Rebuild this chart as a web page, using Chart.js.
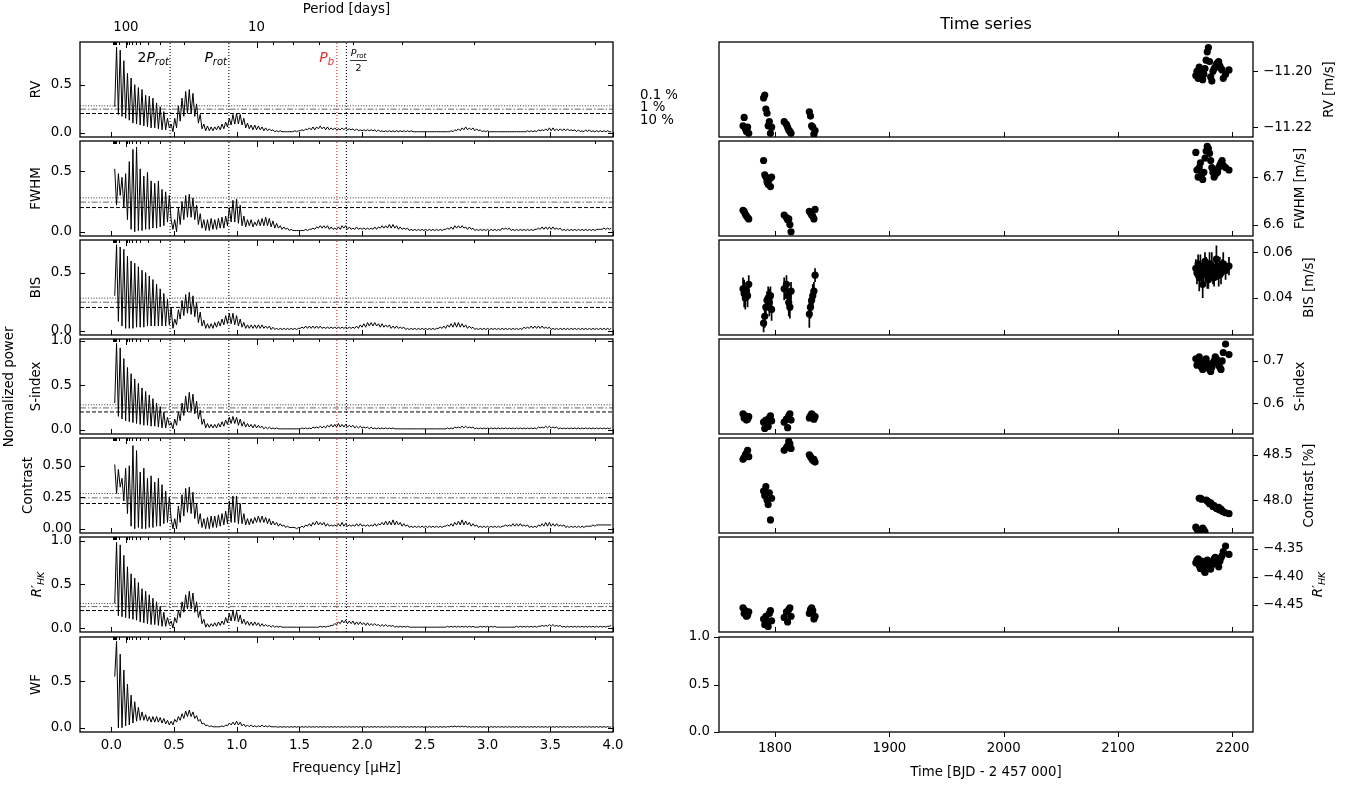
<!DOCTYPE html>
<html><head><meta charset="utf-8">
<script src="https://cdn.jsdelivr.net/npm/chart.js@4.4.1/dist/chart.umd.min.js"></script>
<style>
html,body{margin:0;padding:0;background:#fff;}
#wrap{position:relative;width:1363px;height:787px;overflow:hidden;background:#fff;}
canvas{position:absolute;}
</style></head><body><div id="wrap"></div>
<script>
// ---------------- DATA ----------------
// periodogram frequency grid (muHz): start and spacing of the sampled grid
const fStart = 0.027, fStep = 0.0145;
const freqTicks = [0,0.5,1,1.5,2,2.5,3,3.5,4];
const periodMajor = [100,10];
const periodMinor = [1000,900,800,700,600,500,400,300,200,90,80,70,60,50,40,30,20,9,8,7,6,5,4,3];
const sigLevels = [0.28,0.245,0.20];
const sigNames = ['0.1 %','1 %','10 %'];
const markFreqs = [0.4685,0.937,1.798,1.874];

const rvPow = [
.27,.89,.19,.86,.17,.75,.15,.62,.13,.57,
.10,.50,.09,.47,.08,.45,.07,.39,.06,.38,
.05,.36,.05,.31,.04,.27,.03,.22,.03,.15,
.05,.09,.01,.15,.05,.28,.12,.36,.17,.43,
.20,.45,.20,.41,.17,.30,.10,.19,.04,.09,
.02,.07,.02,.06,.02,.06,.03,.07,.03,.09,
.04,.11,.06,.15,.08,.19,.09,.20,.09,.19,
.08,.15,.05,.10,.04,.08,.03,.08,.03,.07,
.03,.06,.02,.05,.02,.04,.02,.03,.01,.02,
.01,.02,.01,.01,.01,.01,.01,.01,.01,.02,
.01,.02,.02,.03,.02,.04,.03,.05,.03,.06,
.03,.06,.04,.07,.04,.06,.03,.06,.03,.05,
.03,.05,.03,.04,.03,.05,.03,.05,.03,.04,
.03,.04,.02,.04,.02,.03,.02,.03,.02,.03,
.02,.03,.02,.03,.01,.03,.01,.02,.01,.02,
.01,.02,.01,.02,.01,.02,.01,.02,.01,.02,
.01,.02,.01,.02,.01,.01,.01,.01,.01,.01,
.01,.01,.01,.01,.01,.01,.01,.01,.01,.01,
.01,.01,.01,.01,.01,.02,.01,.03,.02,.04,
.02,.05,.03,.06,.03,.05,.03,.05,.02,.04,
.02,.03,.01,.02,.01,.02,.01,.01,.01,.01,
.01,.01,.01,.01,.01,.01,.01,.01,.01,.01,
.01,.01,.01,.01,.01,.01,.01,.02,.01,.02,
.01,.02,.01,.03,.02,.03,.02,.04,.02,.05,
.02,.05,.02,.04,.02,.04,.02,.04,.02,.04,
.02,.03,.02,.03,.01,.03,.01,.02,.01,.03,
.01,.03,.01,.02,.01,.02,.01,.02,.01,.02,
.01,.02,.01,.01];

const fwhmPow = [
.52,.22,.48,.30,.45,.20,.48,.10,.58,.02,
.68,.00,.70,.01,.52,.01,.46,.02,.49,.02,
.42,.03,.40,.03,.42,.04,.35,.05,.33,.08,
.30,.10,.02,.10,.00,.20,.06,.25,.10,.30,
.12,.31,.12,.28,.10,.22,.06,.15,.03,.10,
.01,.10,.01,.11,.02,.10,.02,.11,.03,.12,
.03,.13,.05,.20,.08,.26,.08,.27,.07,.22,
.05,.13,.04,.10,.05,.10,.04,.08,.05,.10,
.05,.11,.05,.12,.05,.11,.04,.09,.03,.07,
.03,.05,.02,.04,.02,.03,.01,.02,.01,.01,
.01,.01,.01,.01,.01,.02,.01,.02,.02,.03,
.02,.04,.03,.05,.03,.05,.03,.05,.02,.04,
.02,.03,.02,.04,.02,.05,.03,.05,.02,.04,
.02,.03,.02,.04,.02,.03,.02,.03,.02,.03,
.02,.03,.02,.04,.02,.04,.03,.05,.03,.05,
.03,.06,.03,.06,.03,.05,.02,.04,.02,.03,
.02,.03,.01,.02,.01,.02,.01,.02,.01,.02,
.01,.02,.01,.02,.01,.02,.01,.02,.01,.02,
.01,.02,.02,.03,.02,.04,.02,.05,.03,.05,
.03,.05,.03,.04,.02,.04,.02,.03,.01,.02,
.01,.02,.01,.02,.01,.02,.01,.02,.01,.02,
.01,.02,.01,.03,.02,.03,.02,.03,.01,.02,
.01,.02,.01,.02,.01,.02,.01,.02,.01,.02,
.01,.02,.02,.03,.02,.04,.02,.04,.02,.04,
.02,.04,.02,.03,.02,.03,.01,.02,.01,.02,
.01,.02,.01,.02,.01,.02,.01,.02,.01,.02,
.01,.02,.01,.02,.01,.02,.02,.02,.02,.03,
.02,.03,.02,.03];

const bisPow = [
.30,.74,.08,.72,.04,.70,.02,.64,.02,.60,
.02,.58,.03,.55,.03,.52,.03,.50,.04,.47,
.04,.44,.04,.40,.04,.36,.04,.32,.04,.27,
.05,.20,.02,.10,.05,.18,.10,.26,.13,.31,
.15,.33,.14,.30,.12,.24,.07,.16,.04,.09,
.02,.06,.02,.06,.02,.07,.03,.08,.04,.10,
.05,.13,.06,.15,.06,.15,.05,.13,.04,.10,
.03,.07,.02,.05,.02,.05,.02,.05,.02,.05,
.02,.05,.02,.04,.02,.04,.01,.03,.01,.02,
.01,.02,.01,.02,.01,.02,.01,.02,.01,.02,
.01,.02,.02,.03,.02,.04,.02,.04,.02,.04,
.02,.04,.02,.04,.02,.03,.02,.03,.02,.03,
.02,.03,.02,.03,.02,.03,.02,.03,.02,.03,
.02,.03,.02,.04,.02,.05,.03,.06,.03,.07,
.04,.07,.04,.07,.04,.06,.03,.06,.03,.05,
.03,.05,.02,.04,.02,.04,.02,.03,.02,.03,
.01,.02,.01,.02,.01,.02,.01,.02,.01,.02,
.01,.02,.01,.02,.01,.02,.01,.02,.02,.03,
.02,.04,.02,.05,.03,.06,.03,.07,.03,.07,
.03,.06,.03,.05,.02,.04,.02,.03,.01,.02,
.01,.02,.01,.02,.01,.02,.01,.02,.01,.02,
.01,.02,.01,.02,.01,.02,.01,.02,.01,.02,
.01,.02,.01,.02,.01,.03,.02,.03,.02,.04,
.02,.04,.02,.04,.02,.04,.02,.03,.02,.03,
.01,.02,.01,.02,.01,.02,.01,.02,.01,.02,
.01,.02,.01,.02,.01,.02,.01,.02,.01,.02,
.01,.02,.01,.02,.01,.02,.01,.02,.01,.02,
.01,.02,.01,.02];

const sPow = [
.30,.97,.15,.92,.12,.80,.10,.70,.09,.63,
.08,.57,.07,.52,.06,.47,.05,.43,.05,.39,
.04,.35,.04,.30,.03,.26,.02,.20,.02,.14,
.05,.08,.01,.12,.05,.20,.10,.30,.16,.38,
.20,.42,.21,.40,.18,.32,.12,.22,.06,.12,
.02,.07,.02,.06,.02,.06,.02,.07,.03,.09,
.04,.11,.06,.14,.07,.15,.07,.14,.05,.12,
.04,.09,.03,.07,.03,.06,.02,.06,.02,.05,
.02,.04,.01,.03,.01,.03,.01,.02,.01,.02,
.01,.01,.01,.01,.01,.01,.01,.01,.01,.01,
.01,.01,.01,.02,.01,.02,.01,.02,.01,.03,
.02,.03,.02,.04,.02,.04,.02,.05,.03,.06,
.03,.06,.03,.07,.03,.06,.03,.06,.03,.05,
.03,.05,.02,.04,.02,.04,.02,.03,.02,.03,
.01,.03,.01,.02,.01,.02,.01,.02,.01,.02,
.01,.02,.01,.02,.01,.01,.01,.01,.01,.01,
.01,.01,.01,.01,.01,.01,.01,.01,.01,.01,
.01,.01,.01,.01,.01,.01,.01,.01,.01,.01,
.01,.01,.01,.02,.01,.02,.01,.03,.02,.03,
.02,.04,.02,.04,.02,.03,.02,.03,.01,.02,
.01,.02,.01,.02,.01,.02,.01,.02,.01,.02,
.01,.02,.01,.02,.01,.02,.01,.02,.01,.02,
.01,.02,.01,.02,.01,.02,.01,.02,.01,.02,
.01,.02,.01,.03,.02,.03,.02,.04,.02,.04,
.02,.03,.02,.03,.01,.02,.01,.02,.01,.02,
.01,.02,.01,.02,.01,.02,.01,.02,.01,.02,
.01,.02,.01,.02,.01,.02,.01,.02,.01,.02,
.01,.02,.01,.02];

const conPow = [
.51,.28,.47,.33,.40,.22,.48,.12,.50,.02,
.66,.00,.62,.01,.45,.00,.48,.00,.40,.01,
.42,.01,.37,.02,.40,.02,.35,.04,.30,.05,
.25,.08,.00,.08,.00,.18,.05,.27,.10,.32,
.13,.33,.12,.29,.08,.20,.04,.12,.01,.08,
.00,.09,.00,.10,.01,.10,.01,.11,.02,.12,
.03,.14,.04,.22,.05,.26,.05,.26,.04,.20,
.04,.12,.03,.08,.03,.08,.04,.09,.05,.10,
.05,.10,.05,.09,.04,.08,.03,.06,.03,.05,
.02,.04,.02,.03,.01,.02,.01,.01,.01,.01,
.00,.01,.01,.02,.01,.03,.02,.04,.02,.05,
.03,.06,.03,.05,.03,.05,.02,.04,.02,.03,
.02,.03,.02,.04,.02,.05,.02,.04,.02,.03,
.02,.03,.02,.04,.02,.04,.02,.03,.02,.03,
.02,.03,.02,.04,.02,.04,.03,.05,.03,.06,
.03,.06,.03,.07,.03,.06,.03,.05,.02,.04,
.02,.03,.01,.02,.01,.02,.01,.02,.01,.02,
.01,.02,.01,.02,.01,.02,.01,.02,.01,.02,
.01,.02,.02,.03,.02,.04,.02,.05,.03,.06,
.03,.07,.03,.06,.03,.05,.02,.04,.02,.03,
.01,.02,.01,.02,.01,.02,.01,.02,.01,.02,
.01,.02,.01,.02,.02,.03,.02,.03,.02,.04,
.02,.04,.02,.04,.02,.03,.02,.03,.01,.02,
.01,.02,.01,.03,.02,.04,.02,.05,.02,.05,
.02,.04,.02,.04,.02,.03,.02,.03,.01,.02,
.01,.02,.01,.02,.01,.02,.01,.02,.01,.02,
.02,.02,.02,.03,.02,.03,.03,.03,.03,.03,
.03,.03,.03,.03];

const rhkPow = [
.28,.98,.14,.95,.13,.83,.12,.70,.11,.62,
.10,.57,.09,.52,.07,.45,.06,.42,.05,.38,
.04,.34,.04,.30,.03,.25,.02,.18,.02,.12,
.04,.08,.00,.12,.06,.20,.12,.30,.18,.38,
.22,.42,.22,.40,.18,.30,.12,.20,.05,.10,
.01,.05,.01,.05,.02,.06,.02,.07,.03,.08,
.04,.12,.06,.17,.08,.20,.08,.19,.07,.15,
.05,.10,.04,.08,.03,.07,.03,.07,.03,.06,
.02,.05,.02,.04,.02,.03,.01,.03,.01,.02,
.01,.02,.01,.01,.01,.01,.01,.01,.01,.01,
.01,.01,.01,.01,.01,.01,.01,.01,.01,.01,
.01,.01,.01,.02,.01,.02,.01,.02,.02,.03,
.03,.05,.04,.07,.05,.09,.06,.09,.05,.08,
.05,.08,.04,.07,.04,.07,.04,.06,.03,.06,
.03,.05,.03,.05,.03,.04,.02,.04,.02,.04,
.02,.03,.02,.03,.01,.02,.01,.02,.01,.02,
.01,.02,.01,.01,.01,.01,.01,.01,.01,.01,
.01,.01,.01,.01,.01,.01,.01,.01,.01,.01,
.01,.01,.01,.02,.01,.02,.01,.02,.01,.02,
.01,.02,.01,.02,.01,.02,.01,.02,.01,.01,
.01,.02,.01,.02,.01,.02,.01,.02,.01,.02,
.01,.01,.01,.01,.01,.01,.01,.01,.01,.01,
.01,.02,.01,.02,.01,.02,.01,.02,.01,.02,
.01,.02,.01,.02,.02,.03,.02,.03,.02,.04,
.02,.04,.02,.03,.02,.03,.01,.02,.01,.02,
.01,.02,.01,.02,.01,.02,.01,.02,.01,.02,
.01,.02,.01,.02,.01,.02,.01,.02,.01,.02,
.01,.02,.02,.03];

const wfPow = [
.55,.93,.00,.79,.00,.62,.02,.47,.03,.35,
.05,.28,.07,.22,.08,.17,.08,.14,.07,.12,
.06,.12,.06,.12,.06,.11,.05,.10,.04,.08,
.03,.07,.03,.09,.06,.12,.08,.15,.10,.18,
.12,.19,.12,.17,.10,.13,.07,.09,.04,.05,
.02,.03,.01,.02,.01,.01,.01,.01,.01,.02,
.01,.03,.02,.05,.03,.06,.03,.07,.03,.06,
.02,.04,.01,.03,.01,.03,.01,.02,.01,.02,
.01,.03,.01,.02,.01,.02,.01,.01,.01,.01,
.005,.012,.005,.012,.005,.012,.005,.012,.005,.012,
.005,.012,.005,.012,.005,.012,.005,.012,.005,.012,
.005,.012,.005,.012,.005,.012,.005,.012,.005,.012,
.005,.012,.005,.012,.005,.012,.005,.012,.005,.012,
.005,.012,.005,.012,.005,.012,.005,.012,.005,.012,
.005,.012,.005,.012,.005,.012,.005,.012,.005,.012,
.005,.012,.005,.012,.005,.012,.005,.012,.005,.012,
.005,.012,.005,.012,.005,.012,.005,.012,.005,.012,
.005,.012,.005,.012,.005,.012,.005,.012,.005,.012,
.005,.012,.005,.012,.008,.016,.008,.018,.008,.016,
.008,.018,.008,.016,.005,.012,.005,.012,.005,.012,
.005,.012,.005,.012,.005,.012,.005,.012,.005,.012,
.005,.012,.005,.012,.005,.012,.005,.012,.005,.012,
.005,.012,.005,.012,.005,.012,.005,.012,.005,.012,
.005,.012,.005,.012,.005,.012,.005,.012,.005,.012,
.005,.012,.005,.012,.005,.012,.005,.012,.005,.012,
.005,.012,.005,.012,.005,.012,.005,.012,.005,.012,
.005,.012,.005,.012,.005,.012,.005,.012,.005,.012,
.005,.012,.005,.010];

// time series (BJD - 2457000)
const tObs = [1772,1773,1774,1775,1776,1777,
1790,1791,1792,1793,1794,1795,1796,1797,
1808,1810,1811,1812,1813,1814,
1830,1831,1832,1833,1834,1835,
2168,2169,2170,2171,2172,2173,2174,2175,2176,2177,2178,2179,2180,2181,2182,2183,2184,2185,2186,2187,2188,2189,2190,2191,2192,2194,2197];
const timeTicks = [1800,1900,2000,2100,2200];

const rvObs = [-11.2195,-11.2165,-11.2205,-11.2215,-11.2200,-11.2222,
-11.2095,-11.2085,-11.2135,-11.2150,-11.2195,-11.2180,-11.2222,-11.2200,
-11.2180,-11.2190,-11.2200,-11.2210,-11.2215,-11.2222,
-11.2145,-11.2160,-11.2195,-11.2200,-11.2225,-11.2212,
-11.2015,-11.2000,-11.2025,-11.1985,-11.2005,-11.1995,-11.2030,-11.2010,-11.1990,-11.1960,-11.1930,-11.1915,-11.1965,-11.2020,-11.2035,-11.2000,-11.1990,-11.1985,-11.1975,-11.1970,-11.1965,-11.1980,-11.1990,-11.1995,-11.2025,-11.2010,-11.1995];
const fwhmObs = [6.630,6.628,6.622,6.618,6.615,6.612,
6.735,6.705,6.700,6.690,6.685,6.695,6.680,6.700,
6.620,6.615,6.610,6.612,6.600,6.585,
6.628,6.625,6.620,6.618,6.612,6.632,
6.752,6.715,6.700,6.720,6.730,6.705,6.695,6.710,6.740,6.755,6.765,6.760,6.750,6.735,6.720,6.710,6.700,6.705,6.715,6.710,6.720,6.725,6.730,6.735,6.725,6.720,6.715];
const bisObs = [.044,.042,.040,.043,.041,.046,
.029,.032,.036,.039,.040,.038,.041,.035,
.044,.046,.041,.038,.036,.043,
.033,.036,.039,.041,.043,.050,
.053,.051,.055,.049,.054,.050,.046,.052,.056,.053,.050,.048,.055,.052,.054,.051,.049,.053,.057,.052,.050,.054,.051,.053,.055,.052,.054];
const bisErr = [.005,.006,.005,.004,.005,.004,
.004,.005,.005,.004,.005,.006,.004,.005,
.005,.004,.005,.006,.005,.004,
.006,.005,.004,.005,.004,.003,
.004,.005,.004,.006,.005,.004,.006,.005,.004,.005,.006,.004,.005,.004,.006,.005,.004,.005,.006,.004,.005,.004,.005,.004,.005,.004,.004];
const sObs = [.575,.565,.570,.560,.562,.568,
.555,.540,.560,.552,.545,.565,.570,.558,
.555,.562,.542,.570,.575,.560,
.565,.570,.575,.572,.562,.568,
.705,.690,.700,.710,.695,.685,.680,.690,.700,.705,.695,.690,.680,.675,.685,.695,.700,.710,.705,.700,.690,.685,.680,.700,.720,.740,.715];
const conObs = [48.45,48.47,48.50,48.52,48.55,48.48,
48.10,48.05,48.15,48.00,47.95,48.08,47.78,48.02,
48.55,48.58,48.60,48.65,48.62,48.57,
48.50,48.48,48.46,48.44,48.45,48.42,
47.70,47.68,47.66,48.02,48.02,48.01,47.69,47.67,47.65,48.00,47.99,47.98,47.96,47.97,47.95,47.93,47.94,47.92,47.91,47.90,47.92,47.89,47.90,47.88,47.87,47.86,47.85];
const rhkObs = [-4.455,-4.465,-4.460,-4.470,-4.468,-4.462,
-4.475,-4.485,-4.470,-4.480,-4.488,-4.465,-4.460,-4.478,
-4.472,-4.462,-4.480,-4.458,-4.455,-4.470,
-4.465,-4.458,-4.455,-4.460,-4.475,-4.470,
-4.375,-4.370,-4.368,-4.380,-4.385,-4.372,-4.375,-4.388,-4.392,-4.378,-4.370,-4.374,-4.380,-4.386,-4.379,-4.372,-4.368,-4.365,-4.370,-4.376,-4.382,-4.372,-4.366,-4.362,-4.355,-4.345,-4.360];

// ---------------- RENDERING ----------------
const FAM = '"DejaVu Sans", sans-serif';
const FS = 13.3;
Chart.defaults.font.family = FAM;
Chart.defaults.font.size = FS;
Chart.defaults.color = '#000';
const P2F = 1e6/86400;
const freq = rvPow.map((_, i) => +(fStart + i*fStep).toFixed(4));
const wrap = document.getElementById('wrap');
const minus = s => s.replace('-', '\u2212');

const decor = {
  id: 'decor',
  afterDraw(chart) {
    const o = chart.canvas.decor; if (!o) return;
    const ctx = chart.ctx, a = chart.chartArea;
    ctx.save();
    ctx.strokeStyle = '#000'; ctx.lineWidth = 1;
    (o.ticks || []).forEach(t => {
      const sc = chart.scales[t.scale];
      t.vals.forEach(v => {
        const p = Math.round(sc.getPixelForValue(v)) + 0.5, L = t.len;
        ctx.beginPath();
        if (t.side === 'bottom') { ctx.moveTo(p, a.bottom); ctx.lineTo(p, t.out ? a.bottom + L : a.bottom - L); }
        else if (t.side === 'top') { ctx.moveTo(p, a.top); ctx.lineTo(p, t.out ? a.top - L : a.top + L); }
        else if (t.side === 'left') { ctx.moveTo(a.left, p); ctx.lineTo(t.out ? a.left - L : a.left + L, p); }
        else { ctx.moveTo(a.right, p); ctx.lineTo(t.out ? a.right + L : a.right - L, p); }
        ctx.stroke();
      });
    });
    ctx.lineWidth = 1.3;
    ctx.strokeRect(a.left, a.top, a.right - a.left, a.bottom - a.top);
    ctx.translate(-o.ox, -o.oy);
    if (o.draw) o.draw(ctx);
    ctx.restore();
  }
};

function txt(ctx, s, x, y, opt) {
  opt = opt || {};
  ctx.save();
  ctx.font = (opt.style || '') + ' ' + (opt.size || FS) + 'px ' + FAM;
  ctx.fillStyle = opt.color || '#000';
  ctx.textAlign = opt.align || 'center';
  ctx.textBaseline = opt.base || 'middle';
  ctx.translate(x, y);
  if (opt.rot) ctx.rotate(-Math.PI/2);
  ctx.fillText(s, 0, 0);
  ctx.restore();
}
// math-like runs: parts [{t, it, size, dy}]
function runs(ctx, parts, x, y, align, color, rot) {
  ctx.save();
  ctx.fillStyle = color || '#000';
  ctx.textBaseline = 'alphabetic'; ctx.textAlign = 'left';
  let w = 0;
  parts.forEach(p => { ctx.font = (p.it ? 'italic ' : '') + p.size + 'px ' + FAM; p.w = ctx.measureText(p.t).width; w += p.w; });
  ctx.translate(x, y);
  if (rot) ctx.rotate(-Math.PI/2);
  let cx = align === 'right' ? -w : (align === 'center' ? -w/2 : 0);
  parts.forEach(p => { ctx.font = (p.it ? 'italic ' : '') + p.size + 'px ' + FAM; ctx.fillText(p.t, cx, p.dy || 0); cx += p.w; });
  ctx.restore();
}
const rhkParts = () => [{t: 'R', it: true, size: FS}, {t: '\u2032', it: false, size: FS}, {t: 'HK', it: true, size: 9.5, dy: 3}];

function mkChart(left, top, w, h, config, dec) {
  const c = document.createElement('canvas');
  c.width = w; c.height = h;
  c.style.left = left + 'px'; c.style.top = top + 'px';
  c.style.width = w + 'px'; c.style.height = h + 'px';
  wrap.appendChild(c);
  c.decor = Object.assign({ox: left, oy: top}, dec);
  config.plugins = [decor];
  Object.assign(config.options, {responsive: false, animation: false, devicePixelRatio: 1, events: []});
  config.options.plugins = {legend: {display: false}, tooltip: {enabled: false}, title: {display: false}};
  return new Chart(c, config);
}

const tops = [42,141,240,339,438,537,637], PH = 95;
const LX0 = 80, LX1 = 613, LCW = 700, PADM = 20;
const leftPanels = [
  {pow: rvPow, yMin: -0.045, yMax: 0.945, yTicks: [0,0.5], dec: 1, label: 'RV', lx: 37},
  {pow: fwhmPow, yMin: -0.035, yMax: 0.75, yTicks: [0,0.5], dec: 1, label: 'FWHM', lx: 37},
  {pow: bisPow, yMin: -0.037, yMax: 0.78, yTicks: [0,0.5], dec: 1, label: 'BIS', lx: 37},
  {pow: sPow, yMin: -0.048, yMax: 1.02, yTicks: [0,0.5,1], dec: 1, label: 'S-index', lx: 37},
  {pow: conPow, yMin: -0.034, yMax: 0.72, yTicks: [0,0.25,0.5], dec: 2, label: 'Contrast', lx: 29},
  {pow: rhkPow, yMin: -0.045, yMax: 1.04, yTicks: [0,0.5,1], dec: 1, label: 'RHK', lx: 37},
  {pow: wfPow, yMin: -0.046, yMax: 0.975, yTicks: [0,0.5], dec: 1, label: 'WF', lx: 37, wf: true}
];
const sigStyle = [{c: '#333', d: [1,1.7]}, {c: '#666', d: [6,2,1.5,2]}, {c: '#000', d: [4,2]}];
const markCol = ['#000','#000','#e03030','#000'];

leftPanels.forEach((p, k) => {
  const padT = k === 0 ? 42 : PADM, padB = k === 6 ? 55 : PADM;
  const cTop = tops[k] - padT, cH = padT + PH + padB;
  const ds = [{data: freq.map((f, i) => ({x: f, y: p.pow[i]})), borderColor: '#000', borderWidth: 1,
               pointRadius: 0, tension: 0, fill: false}];
  if (!p.wf) {
    sigLevels.forEach((lv, j) => ds.push({data: [{x: -0.25, y: lv}, {x: 4, y: lv}], borderColor: sigStyle[j].c,
      borderDash: sigStyle[j].d, borderWidth: 1, pointRadius: 0}));
    markFreqs.forEach((mf, j) => ds.push({data: [{x: mf, y: p.yMin}, {x: mf, y: p.yMax}], borderColor: markCol[j],
      borderDash: [1,2], borderWidth: 1.1, pointRadius: 0}));
  }
  const scales = {
    x: {type: 'linear', min: -0.25, max: 4, position: 'bottom',
        grid: {display: false, drawTicks: false}, border: {display: false},
        ticks: {display: k === 6, padding: 6, maxRotation: 0, autoSkip: false, callback: v => v.toFixed(1)},
        afterBuildTicks: s => { s.ticks = freqTicks.map(v => ({value: v})); },
        afterFit: s => { s.height = padB; }},
    y: {type: 'linear', min: p.yMin, max: p.yMax, position: 'left',
        grid: {display: false, drawTicks: false}, border: {display: false},
        ticks: {padding: 8, callback: v => v.toFixed(p.dec)},
        afterBuildTicks: s => { s.ticks = p.yTicks.map(v => ({value: v})); },
        afterFit: s => { s.width = LX0; }}
  };
  if (k === 0) {
    scales.xt = {type: 'linear', min: -0.25, max: 4, position: 'top',
      grid: {display: false, drawTicks: false}, border: {display: false},
      ticks: {padding: 6, maxRotation: 0, autoSkip: false, callback: (v, i) => String(periodMajor[i])},
      afterBuildTicks: s => { s.ticks = periodMajor.map(P => ({value: P2F / P})); },
      afterFit: s => { s.height = padT; }};
  }
  const ticks = [
    {scale: 'x', side: 'bottom', vals: freqTicks, len: 5},
    {scale: 'x', side: 'top', vals: periodMajor.map(P => P2F / P), len: 6},
    {scale: 'x', side: 'top', vals: periodMinor.map(P => P2F / P), len: 3},
    {scale: 'y', side: 'left', vals: p.yTicks, len: 5},
    {scale: 'y', side: 'right', vals: p.yTicks, len: 5}
  ];
  const yc = tops[k] + PH / 2;
  const draw = ctx => {
    if (p.label === 'RHK') runs(ctx, rhkParts(), p.lx + 4, yc, 'center', '#000', true);
    else txt(ctx, p.label, p.lx, yc, {rot: true});
    if (k === 0) {
      txt(ctx, 'Period [days]', 346.5, 10);
      txt(ctx, sigNames[0], 640, 96, {align: 'left'});
      txt(ctx, sigNames[1], 640, 108, {align: 'left'});
      txt(ctx, sigNames[2], 640, 121, {align: 'left'});
      runs(ctx, [{t: '2', size: 14}, {t: 'P', it: true, size: 14}, {t: 'rot', it: true, size: 10, dy: 3}], 169, 62, 'right');
      runs(ctx, [{t: 'P', it: true, size: 14}, {t: 'rot', it: true, size: 10, dy: 3}], 227, 62, 'right');
      runs(ctx, [{t: 'P', it: true, size: 14}, {t: 'b', it: true, size: 10, dy: 3}], 334, 62, 'right', '#e03030');
      runs(ctx, [{t: 'P', it: true, size: 9.5}, {t: 'rot', it: true, size: 7, dy: 2}], 358.5, 56, 'center');
      ctx.save(); ctx.strokeStyle = '#000'; ctx.lineWidth = 0.8; ctx.beginPath(); ctx.moveTo(350, 60.5); ctx.lineTo(367, 60.5); ctx.stroke(); ctx.restore();
      runs(ctx, [{t: '2', size: 9.5}], 358.5, 70.5, 'center');
    }
    if (k === 3) txt(ctx, 'Normalized power', 10, 387, {rot: true});
    if (k === 6) txt(ctx, 'Frequency [\u03bcHz]', 346.5, 769);
  };
  mkChart(0, cTop, LCW, cH, {
    type: 'line', data: {datasets: ds},
    options: {layout: {padding: {left: 0, right: LCW - LX1, top: k === 0 ? 0 : padT, bottom: 0}}, scales}
  }, {ticks, draw});
});

// right column
const RCL = 650, RCW = 713, RX0 = 719, RX1 = 1253;
const rightPanels = [
  {obs: rvObs, yMin: -11.2235, yMax: -11.1895, yTicks: [-11.22,-11.20], dec: 2, label: 'RV [m/s]', lx: 1330},
  {obs: fwhmObs, yMin: 6.576, yMax: 6.776, yTicks: [6.6,6.7], dec: 1, label: 'FWHM [m/s]', lx: 1301},
  {obs: bisObs, err: bisErr, yMin: 0.0238, yMax: 0.0654, yTicks: [0.04,0.06], dec: 2, label: 'BIS [m/s]', lx: 1310},
  {obs: sObs, yMin: 0.527, yMax: 0.752, yTicks: [0.6,0.7], dec: 1, label: 'S-index', lx: 1301},
  {obs: conObs, yMin: 47.636, yMax: 48.686, yTicks: [48.0,48.5], dec: 1, label: 'Contrast [%]', lx: 1310},
  {obs: rhkObs, yMin: -4.498, yMax: -4.329, yTicks: [-4.45,-4.40,-4.35], dec: 2, label: 'RHK', lx: 1318},
  {obs: null, yMin: 0, yMax: 1, yTicks: [0,0.5,1], dec: 1, label: ''}
];
rightPanels.forEach((p, k) => {
  const last = k === 6;
  const padT = k === 0 ? 42 : PADM, padB = last ? 55 : PADM;
  const cTop = tops[k] - padT, cH = padT + PH + padB;
  const ds = [];
  if (p.err) {
    const eb = [];
    tObs.forEach((t, i) => { eb.push({x: t, y: p.obs[i] - p.err[i]}, {x: t, y: p.obs[i] + p.err[i]}, {x: t, y: null}); });
    ds.push({type: 'line', data: eb, borderColor: '#000', borderWidth: 1.7, pointRadius: 0, spanGaps: false});
  }
  if (p.obs) ds.push({data: tObs.map((t, i) => ({x: t, y: p.obs[i]})), backgroundColor: '#000', borderColor: '#000',
    pointRadius: 3.6, pointBorderWidth: 0, showLine: false});
  const scales = {
    x: {type: 'linear', min: 1751, max: 2218, position: 'bottom',
        grid: {display: false, drawTicks: false}, border: {display: false},
        ticks: {display: last, padding: 9, maxRotation: 0, autoSkip: false, callback: v => String(v)},
        afterBuildTicks: s => { s.ticks = timeTicks.map(v => ({value: v})); },
        afterFit: s => { s.height = padB; }},
    y: {type: 'linear', min: p.yMin, max: p.yMax, position: last ? 'left' : 'right',
        grid: {display: false, drawTicks: false}, border: {display: false},
        ticks: {padding: last ? 9 : 10, callback: v => minus(v.toFixed(p.dec))},
        afterBuildTicks: s => { s.ticks = p.yTicks.map(v => ({value: v})); },
        afterFit: s => { s.width = last ? (RX0 - RCL) : (RCL + RCW - RX1); }}
  };
  const ticks = last ? [
    {scale: 'x', side: 'bottom', vals: timeTicks, len: 5, out: true},
    {scale: 'y', side: 'left', vals: p.yTicks, len: 5, out: true}
  ] : [
    {scale: 'x', side: 'bottom', vals: timeTicks, len: 5},
    {scale: 'y', side: 'right', vals: p.yTicks, len: 5, out: true}
  ];
  const yc = tops[k] + PH / 2;
  const draw = ctx => {
    if (p.label === 'RHK') runs(ctx, rhkParts(), p.lx + 4, yc, 'center', '#000', true);
    else if (p.label) txt(ctx, p.label, p.lx, yc, {rot: true});
    if (k === 0) txt(ctx, 'Time series', (RX0 + RX1) / 2, 25, {size: 16});
    if (last) txt(ctx, 'Time [BJD - 2 457 000]', (RX0 + RX1) / 2, 773);
  };
  mkChart(RCL, cTop, RCW, cH, {
    type: 'scatter', data: {datasets: ds},
    options: {layout: {padding: {left: last ? 0 : RX0 - RCL, right: last ? RCL + RCW - RX1 : 0, top: padT, bottom: 0}}, scales}
  }, {ticks, draw});
});
</script>
</body></html>
